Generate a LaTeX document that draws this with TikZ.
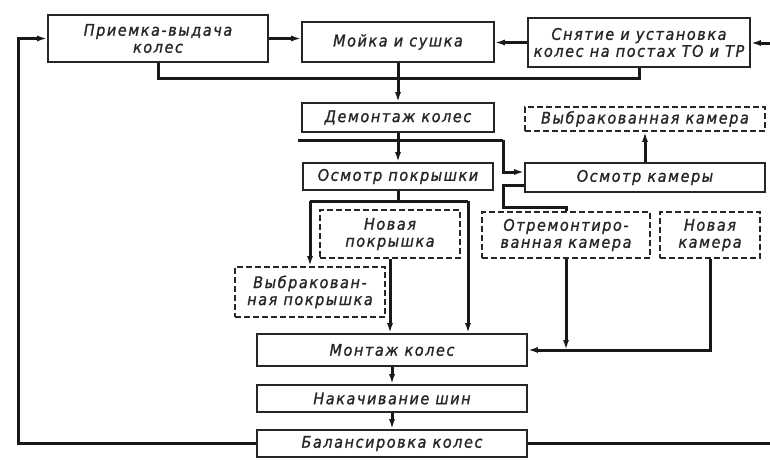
\documentclass[tikz,border=0pt]{standalone}
\usepackage{fontspec}
\setmainfont{DejaVu Sans}
\newfontfamily\gost[LetterSpace=10,FakeBold=1.2]{DejaVu Sans Condensed}
\usetikzlibrary{arrows.meta}
\begin{document}
\begin{tikzpicture}[x=1pt,y=-1pt,
  box/.style={draw=black!85, line width=1.6pt, inner sep=0pt, align=center,
    font=\gost\itshape\fontsize{16}{17}\selectfont, text=black!85},
  dbox/.style={box, dash pattern=on 6pt off 3pt},
  conn/.style={line width=3pt, draw=black!90},
  arr/.style={conn, -{Latex[length=10pt,width=6pt]}}]
\fill[white] (0,0) rectangle (770,459);
\useasboundingbox (0,0) rectangle (770,459);

% nodes
\node[box, minimum width=220pt, minimum height=47pt] (pv) at (158,38.5) {Приемка-выдача\\колес};
\node[box, minimum width=192pt, minimum height=40pt] (ms) at (398,42) {Мойка и сушка};
\node[box, minimum width=222pt, minimum height=49pt] (su) at (639,42.5) {Снятие и установка\\колес на постах ТО и ТР};
\node[box, minimum width=192pt, minimum height=29pt] (dm) at (398,117.5) {Демонтаж колес};
\node[box, minimum width=190pt, minimum height=27pt] (op) at (398,176.5) {Осмотр покрышки};
\node[dbox, minimum width=240pt, minimum height=24pt] (vk) at (645,119) {Выбракованная камера};
\node[box, minimum width=240pt, minimum height=29pt] (ok) at (645,177.5) {Осмотр камеры};
\node[dbox, minimum width=140pt, minimum height=48pt] (np) at (390,234) {Новая\\покрышка};
\node[dbox, minimum width=168pt, minimum height=46pt] (rk) at (566,235) {Отремонтиро-\\ванная камера};
\node[dbox, minimum width=100pt, minimum height=46pt] (nk) at (710,235) {Новая\\камера};
\node[dbox, minimum width=150pt, minimum height=50pt] (vp) at (310,292) {Выбракован-\\ная покрышка};
\node[box, minimum width=270pt, minimum height=32pt] (mk) at (392,350) {Монтаж колес};
\node[box, minimum width=270pt, minimum height=27pt] (ns) at (392,398.5) {Накачивание шин};
\node[box, minimum width=270pt, minimum height=27pt] (bk) at (392,443.5) {Балансировка колес};

% helper coordinates
\coordinate (lc) at (18,443.5);
\coordinate (re1) at (770,43);
\coordinate (re2) at (770,443.5);
\coordinate (cy) at (0,78);
\coordinate (j1) at (298,140);
\coordinate (j2) at (503,140);
\coordinate (j3) at (503,207);
\coordinate (j4) at (310,201);
\coordinate (j5) at (468,201);

% connectors
\draw[arr] (bk.west) -- (lc) |- (pv.west);
\draw[arr] (pv.east) -- (pv.east -| ms.west);
\draw[arr] (su.west) -- (su.west -| ms.east);
\draw[arr] (re1) -- (re1 -| su.east);
\draw[conn] (bk.east) -- (re2);
\draw[conn] (pv.south) -- (pv.south |- cy) -- (su.south |- cy) -- (su.south);
\draw[arr] (ms.south) -- (dm.north);
\draw[arr] (dm.south) -- (op.north);
\draw[conn] (j1) -- (j2);
\draw[arr] (j2) |- ([yshift=5.5pt]ok.west);
\draw[conn] ([yshift=-7.5pt]ok.west) -| (j3) -| (rk.north);
\draw[arr] (ok.north) -- (vk.south);
\draw[conn] (op.south) -- (op.south |- j4);
\draw[conn] (j4) -- (j5);
\draw[arr] (j4) -- (vp.north);
\draw[arr] (j5) -- (j5 |- mk.north);
\draw[arr] (np.south) -- (np.south |- mk.north);
\draw[arr] (rk.south) -- (rk.south |- mk.east);
\draw[arr] (nk.south) |- (mk.east);
\draw[arr] (mk.south) -- (ns.north);
\draw[arr] (ns.south) -- (bk.north);
\end{tikzpicture}
\end{document}
